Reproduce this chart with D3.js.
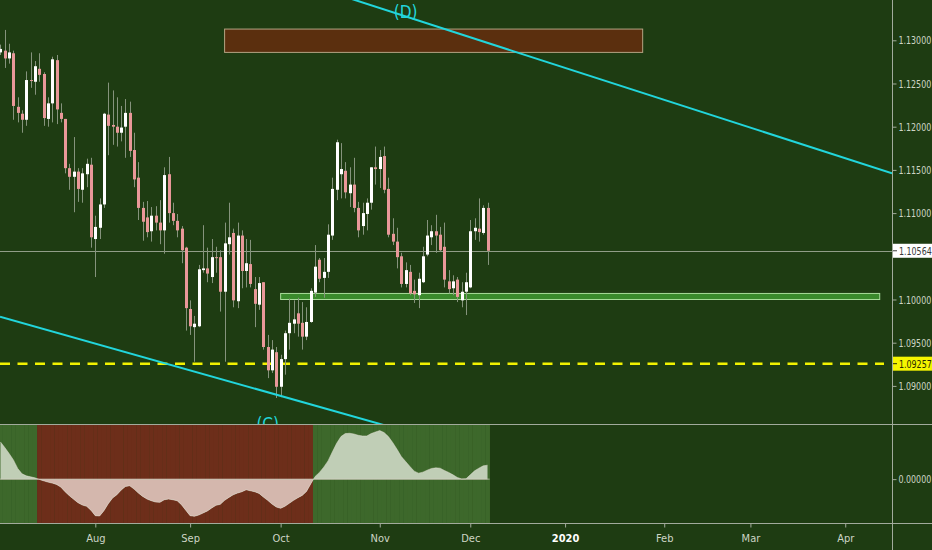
<!DOCTYPE html>
<html><head><meta charset="utf-8">
<script src="https://cdn.jsdelivr.net/npm/d3@7"></script>
<style>html,body{margin:0;padding:0;background:#1e3c12;overflow:hidden}svg{display:block}</style>
</head><body><svg id="c" width="932" height="550"></svg>
<script>
// ---------- DATA ----------
const startDate = "2019-07-02";
const opens = [1.1286,1.1288,1.1279,1.1285,1.1223,1.1215,1.1208,1.1254,1.1252,1.1267,1.1261,1.1209,1.1227,1.1277,1.1216,1.1209,1.1152,1.1142,1.1148,1.1127,1.1145,1.1156,1.1070,1.1083,1.1110,1.1214,1.1202,1.1200,1.1193,1.1200,1.1216,1.1173,1.1141,1.1106,1.1095,1.1079,1.1097,1.1089,1.1080,1.1145,1.1100,1.1091,1.1082,1.1060,1.0989,1.0968,1.0969,1.1034,1.1036,1.1026,1.1049,1.1049,1.1009,1.1064,1.1077,1.0998,1.1074,1.1033,1.1041,1.1012,1.0994,1.1020,1.0945,1.0918,1.0939,1.0899,1.0931,1.0961,1.0972,1.0984,1.0973,1.0957,1.0974,1.1008,1.1046,1.1025,1.1032,1.1074,1.1127,1.1145,1.1149,1.1123,1.1133,1.1106,1.1085,1.1099,1.1112,1.1153,1.1151,1.1166,1.1128,1.1076,1.1067,1.1050,1.1018,1.1032,1.1010,1.1005,1.1020,1.1052,1.1072,1.1079,1.1075,1.1061,1.1021,1.1013,1.1023,1.0999,1.1009,1.1014,1.1079,1.1082,1.1077,1.1106];
const highs = [1.1295,1.1312,1.1296,1.1288,1.1234,1.1219,1.1264,1.1286,1.1276,1.1285,1.1263,1.1234,1.1281,1.1283,1.1227,1.1209,1.1157,1.1188,1.1152,1.1152,1.1163,1.1164,1.1097,1.1117,1.1216,1.1251,1.1242,1.1234,1.1224,1.1232,1.1229,1.1193,1.1159,1.1113,1.1114,1.1107,1.1108,1.1115,1.1153,1.1165,1.1112,1.1099,1.1085,1.1061,1.0999,1.0981,1.1040,1.1086,1.1060,1.1070,1.1061,1.1057,1.1089,1.1112,1.1082,1.1089,1.1080,1.1070,1.1069,1.1026,1.1026,1.1020,1.0959,1.0953,1.0945,1.0936,1.0964,1.1001,1.0999,1.1002,1.0997,1.0991,1.1013,1.1063,1.1048,1.1048,1.1087,1.1141,1.1185,1.1181,1.1159,1.1153,1.1164,1.1113,1.1112,1.1117,1.1153,1.1177,1.1173,1.1177,1.1141,1.1094,1.1083,1.1054,1.1043,1.1040,1.1023,1.1031,1.1061,1.1092,1.1086,1.1098,1.1084,1.1089,1.1034,1.1028,1.1026,1.1020,1.1031,1.1092,1.1094,1.1117,1.1109,1.1112];
const lows = [1.1283,1.1268,1.1273,1.1208,1.1205,1.1193,1.1201,1.1245,1.1237,1.1252,1.1201,1.1200,1.1205,1.1203,1.1205,1.1146,1.1127,1.1101,1.1113,1.1112,1.1130,1.1060,1.1026,1.1070,1.1106,1.1167,1.1179,1.1177,1.1183,1.1164,1.1165,1.1130,1.1092,1.1068,1.1072,1.1067,1.1080,1.1064,1.1053,1.1089,1.1086,1.1072,1.1042,1.0964,1.0959,1.0928,1.0968,1.1031,1.1020,1.1019,1.1031,1.0986,1.0928,1.1052,1.0991,1.0990,1.1013,1.1014,1.1014,1.0968,1.0988,1.0942,1.0909,1.0915,1.0886,1.0887,1.0913,1.0942,1.0961,1.0957,1.0942,1.0953,1.0973,1.1003,1.1020,1.1002,1.1025,1.1069,1.1115,1.1117,1.1117,1.1107,1.1101,1.1072,1.1075,1.1080,1.1104,1.1133,1.1129,1.1123,1.1072,1.1063,1.1036,1.1014,1.1014,1.1005,1.0996,1.0990,1.1019,1.1050,1.1063,1.1054,1.1055,1.1014,1.1007,1.1005,1.0997,1.0991,1.0982,1.1013,1.1069,1.1067,1.1075,1.1040];
const closes = [1.1290,1.1279,1.1286,1.1224,1.1216,1.1208,1.1254,1.1253,1.1270,1.1260,1.1210,1.1227,1.1278,1.1220,1.1209,1.1152,1.1142,1.1148,1.1128,1.1146,1.1157,1.1072,1.1084,1.1110,1.1215,1.1201,1.1200,1.1193,1.1199,1.1216,1.1172,1.1139,1.1106,1.1090,1.1078,1.1097,1.1089,1.1080,1.1144,1.1100,1.1091,1.1080,1.1057,1.0990,1.0969,1.0972,1.1035,1.1036,1.1030,1.1049,1.1048,1.1009,1.1065,1.1072,1.0999,1.1074,1.1033,1.1042,1.1018,1.0995,1.1019,1.0945,1.0918,1.0942,1.0899,1.0931,1.0961,1.0973,1.0977,1.0972,1.0957,1.0974,1.1010,1.1038,1.1024,1.1032,1.1075,1.1128,1.1182,1.1151,1.1124,1.1133,1.1106,1.1080,1.1100,1.1112,1.1153,1.1151,1.1165,1.1127,1.1075,1.1067,1.1049,1.1018,1.1034,1.1007,1.1006,1.1024,1.1050,1.1074,1.1079,1.1074,1.1057,1.1023,1.1012,1.1021,1.1003,1.1009,1.1020,1.1079,1.1083,1.1078,1.1106,1.10564];
const oscValues = [0.00373,0.00317,0.00257,0.00193,0.00107,0.00053,0.00033,0.00023,0.00013,-0.00003,-0.00017,-0.00030,-0.00040,-0.00053,-0.00080,-0.00127,-0.00167,-0.00203,-0.00237,-0.00260,-0.00273,-0.00313,-0.00367,-0.00370,-0.00317,-0.00247,-0.00190,-0.00157,-0.00110,-0.00073,-0.00067,-0.00100,-0.00140,-0.00173,-0.00200,-0.00217,-0.00230,-0.00233,-0.00207,-0.00200,-0.00207,-0.00217,-0.00257,-0.00313,-0.00367,-0.00373,-0.00360,-0.00340,-0.00320,-0.00290,-0.00263,-0.00253,-0.00213,-0.00183,-0.00157,-0.00140,-0.00127,-0.00107,-0.00117,-0.00127,-0.00143,-0.00180,-0.00213,-0.00250,-0.00280,-0.00293,-0.00273,-0.00243,-0.00213,-0.00187,-0.00163,-0.00123,-0.00047,0.00027,0.00067,0.00120,0.00183,0.00273,0.00360,0.00427,0.00457,0.00460,0.00453,0.00440,0.00433,0.00433,0.00457,0.00473,0.00487,0.00467,0.00427,0.00367,0.00300,0.00227,0.00177,0.00127,0.00080,0.00060,0.00070,0.00090,0.00107,0.00113,0.00110,0.00087,0.00067,0.00043,0.00017,0.00002,0.00003,0.00043,0.00083,0.00110,0.00133,0.00140];
const priceTicks = [1.09,1.095,1.10,1.11,1.115,1.12,1.125,1.13];
const oscTicks = [0];
const monthTickDates = ["2019-08-01","2019-09-02","2019-10-01","2019-11-01","2019-12-02","2020-01-01","2020-02-03","2020-03-02","2020-04-01"];
const monthLabels = ["Aug","Sep","Oct","Nov","Dec","2020","Feb","Mar","Apr"];
const lastPrice = 1.10564;
const supportLevel = 1.09257;
const resistanceZone = {from:"2019-09-12", to:"2020-01-27", top:1.1313, bottom:1.1286};
const supportZone = {from:"2019-10-01", to:"2020-04-13", top:1.1007, bottom:1.1000};
const upperTrend = [["2019-10-24",1.1347],["2020-04-07",1.1157]];
const lowerTrend = [["2019-07-02",1.0980],["2019-11-01",1.0856]];
const waveLabels = [{text:"(D)", date:"2019-11-11", price:1.1326},{text:"(C)", date:"2019-09-26", price:1.0849}];

// ---------- SCALES ----------
const svg = d3.select("#c");
const days = [];
for (let d = d3.timeParse("%Y-%m-%d")(startDate); d <= new Date(2020,4,1); d = d3.timeDay.offset(d,1)) {
  const w = d.getDay(); if (w !== 0 && w !== 6) days.push(d);
}
const fmt = d3.timeFormat("%Y-%m-%d");
const idxOf = s => days.findIndex(d => fmt(d) === s);
const plotR = 892, mainB = 424, lowB = 523;
const x = d3.scaleLinear().domain([0,200]).range([0.48,862.48]);
const xd = s => x(idxOf(s));
const y = d3.scaleLinear().domain([1.08559,1.134664]).range([mainB,0]);
const yo = d3.scaleLinear().domain([-0.0044,0.00553]).range([lowB,mainB]);
const step = x(1)-x(0);

const BG="#1e3c12", GRID="#a2ab9c", TXT="#cdd5c5";
const FONT="'DejaVu Sans Condensed','Liberation Sans',sans-serif";

svg.append("rect").attr("width",932).attr("height",550).attr("fill",BG);
const defs = svg.append("defs");
defs.append("clipPath").attr("id","cm").append("rect").attr("x",0).attr("y",0).attr("width",plotR).attr("height",mainB);
defs.append("clipPath").attr("id","cl").append("rect").attr("x",0).attr("y",mainB).attr("width",plotR).attr("height",lowB-mainB);

// ---------- MAIN PANEL ----------
const main = svg.append("g").attr("clip-path","url(#cm)");
main.append("rect")
  .attr("x",xd(resistanceZone.from)).attr("width",xd(resistanceZone.to)-xd(resistanceZone.from))
  .attr("y",y(resistanceZone.top)).attr("height",y(resistanceZone.bottom)-y(resistanceZone.top))
  .attr("fill","#5b2f0e").attr("stroke","#b4a483").attr("stroke-width",1);
main.append("rect")
  .attr("x",xd(supportZone.from)).attr("width",xd(supportZone.to)-xd(supportZone.from))
  .attr("y",y(supportZone.top)).attr("height",y(supportZone.bottom)-y(supportZone.top))
  .attr("fill","#3a8a2c").attr("stroke","#a8dc9a").attr("stroke-width",1);
main.append("line").attr("x1",0).attr("x2",plotR).attr("y1",Math.round(y(lastPrice))+0.5).attr("y2",Math.round(y(lastPrice))+0.5)
  .attr("stroke","#a6ae9e").attr("stroke-opacity",0.85);
main.append("line").attr("x1",0).attr("x2",884).attr("y1",y(supportLevel)).attr("y2",y(supportLevel))
  .attr("stroke","#f2f200").attr("stroke-width",2.5).attr("stroke-dasharray","10,7.5");

const candles = opens.map((o,i)=>({i,o,h:highs[i],l:lows[i],c:closes[i]}));
const cg = main.append("g");
cg.selectAll("line.w").data(candles).join("line").attr("class","w")
  .attr("x1",d=>Math.round(x(d.i))+0.5).attr("x2",d=>Math.round(x(d.i))+0.5)
  .attr("y1",d=>y(d.h)).attr("y2",d=>y(d.l)).attr("stroke","#85937c").attr("stroke-width",1);
cg.selectAll("rect.b").data(candles).join("rect").attr("class","b")
  .attr("x",d=>Math.round(x(d.i))-1).attr("width",3)
  .attr("y",d=>y(Math.max(d.o,d.c))).attr("height",d=>Math.max(1,Math.abs(y(d.o)-y(d.c))))
  .attr("fill",d=>d.c>=d.o?"#ffffff":"#e99899");

[upperTrend, lowerTrend].forEach((pts,k)=>{
  const x0=xd(pts[0][0]), y0=y(pts[0][1]), x1=xd(pts[1][0]), y1=y(pts[1][1]);
  const m=(y1-y0)/(x1-x0);
  const xa = k===0 ? x0-30 : 0, xb = k===0 ? plotR : x1+5;
  main.append("line").attr("x1",xa).attr("y1",y0+m*(xa-x0)).attr("x2",xb).attr("y2",y0+m*(xb-x0))
    .attr("stroke","#22d6dc").attr("stroke-width",2);
});
main.selectAll("text.wave").data(waveLabels).join("text").attr("class","wave")
  .attr("x",d=>xd(d.date)).attr("y",d=>y(d.price)).attr("text-anchor","middle")
  .attr("font-family",FONT).attr("font-size",17).attr("fill","#22d6dc").text(d=>d.text);

// ---------- LOWER PANEL ----------
const low = svg.append("g").attr("clip-path","url(#cl)");
const osc = oscValues.map((v,i)=>({i,v}));
low.selectAll("rect.bg").data(osc).join("rect").attr("class","bg")
  .attr("x",d=>x(d.i)-step/2).attr("width",step+0.3).attr("y",mainB).attr("height",lowB-mainB)
  .attr("fill",d=>d.v>=0?"#3d682b":"#6d2e1a");
const area = d3.area().x(d=>x(d.i)).y0(yo(0)).y1(d=>yo(d.v));
const firstX = x(0)-step/2, lastX = x(osc.length-1)+step/2;
low.append("path").datum(osc).attr("d",area).attr("fill","#c0ceb6");
defs.append("clipPath").attr("id","neg").append("rect").attr("x",0).attr("y",yo(0)).attr("width",plotR).attr("height",lowB-yo(0));
low.append("path").datum(osc).attr("d",area).attr("clip-path","url(#neg)").attr("fill","#d4b7ad");
low.append("path").datum(osc).attr("d",d3.line().x(d=>x(d.i)).y(d=>yo(d.v)))
  .attr("fill","none").attr("stroke","#e6e2d6").attr("stroke-width",0.8).attr("opacity",0.6);
low.append("line").attr("x1",firstX).attr("x2",lastX).attr("y1",yo(0)).attr("y2",yo(0)).attr("stroke","#d8d2c6").attr("stroke-width",1).attr("opacity",0.7);

// ---------- FRAME LINES ----------
svg.append("line").attr("x1",0).attr("x2",932).attr("y1",mainB+0.5).attr("y2",mainB+0.5).attr("stroke",GRID);
svg.append("line").attr("x1",0).attr("x2",932).attr("y1",lowB+0.5).attr("y2",lowB+0.5).attr("stroke",GRID);
svg.append("line").attr("x1",plotR+0.5).attr("x2",plotR+0.5).attr("y1",0).attr("y2",550).attr("stroke",GRID);

// ---------- AXES ----------
function styleAxis(g){
  g.select(".domain").remove();
  g.selectAll(".tick line").attr("stroke",GRID);
  g.selectAll(".tick text").attr("fill",TXT).attr("font-family",FONT).attr("font-size",11);
}
function squeeze(g){
  g.selectAll(".tick text").attr("x",0).attr("transform","translate(6,0) scale(0.8,1)");
}
svg.append("g").attr("transform",`translate(${plotR+0.5},0)`)
  .call(d3.axisRight(y).tickValues(priceTicks).tickFormat(d3.format(".5f")).tickSize(4).tickPadding(3)).call(styleAxis).call(squeeze);
svg.append("g").attr("transform",`translate(${plotR+0.5},0)`)
  .call(d3.axisRight(yo).tickValues(oscTicks).tickFormat(d3.format(".5f")).tickSize(4).tickPadding(3)).call(styleAxis).call(squeeze);
const xa = svg.append("g").attr("transform",`translate(0,${lowB+0.5})`)
  .call(d3.axisBottom(x).tickValues(monthTickDates.map(idxOf)).tickFormat((d,i)=>monthLabels[i]).tickSize(4).tickPadding(7)).call(styleAxis);
xa.selectAll(".tick text").filter((d,i)=>monthLabels[i]==="2020").attr("fill","#ffffff").attr("font-weight","bold");

// price badges
[[lastPrice,"#ffffff","#3a3a3a"],[supportLevel,"#f5f500","#2a2a00"]].forEach(([p,bg,fg])=>{
  const yy=y(p);
  svg.append("rect").attr("x",plotR+1).attr("y",yy-7).attr("width",932-plotR-1).attr("height",14).attr("fill",bg);
  svg.append("line").attr("x1",plotR+1).attr("x2",plotR+5).attr("y1",yy).attr("y2",yy).attr("stroke",fg);
  svg.append("text").attr("x",0).attr("y",0).attr("dy","0.35em").attr("fill",fg)
    .attr("transform",`translate(${plotR+7},${yy}) scale(0.8,1)`)
    .attr("font-family",FONT).attr("font-size",11)
    .text(d3.format(".5f")(p));
});
</script></body></html>
